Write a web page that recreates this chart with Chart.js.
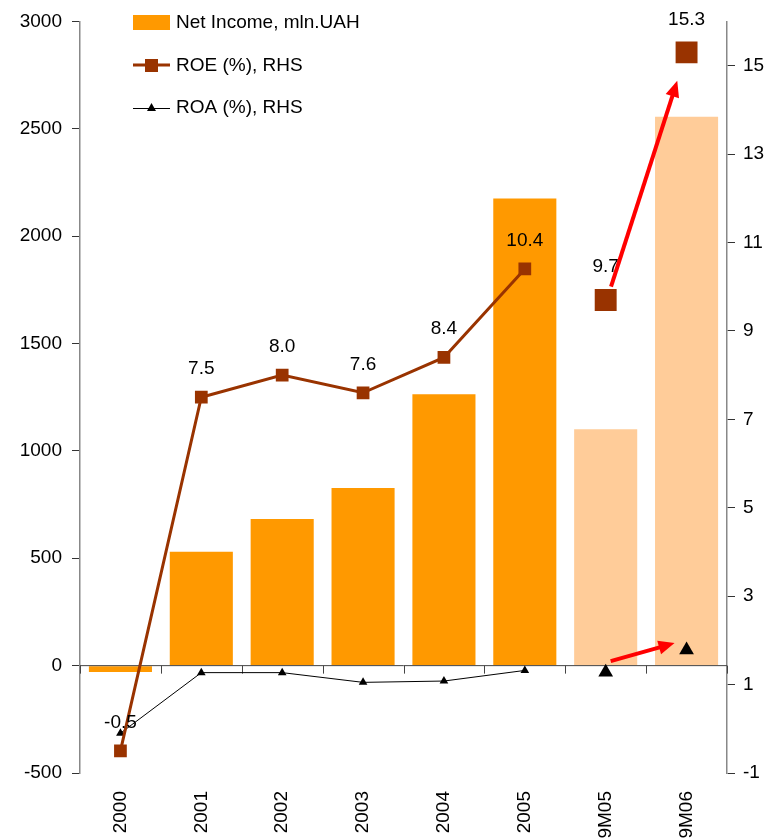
<!DOCTYPE html>
<html>
<head>
<meta charset="utf-8">
<script src="https://cdn.jsdelivr.net/npm/chart.js@4/dist/chart.umd.min.js"></script>
<style>
  html, body { margin: 0; padding: 0; background: #fff; }
  #wrap { width: 767px; height: 838px; position: relative; }
</style>
</head>
<body>
<div id="wrap"><canvas id="chart"></canvas></div>
<script>
/* ---------- data ---------- */
const categories = ['2000', '2001', '2002', '2003', '2004', '2005', '9M05', '9M06'];
const netIncome  = [-30, 530, 683, 827, 1264, 2175, 1101, 2556];   // mln.UAH, left axis
const roe        = [-0.5, 7.5, 8.0, 7.6, 8.4, 10.4, 9.7, 15.3];     // %, right axis
const roa        = [-0.1, 1.27, 1.27, 1.05, 1.08, 1.32, 1.28, 1.78]; // %, right axis
const leftTickValues  = [-500, 0, 500, 1000, 1500, 2000, 2500, 3000];
const rightTickValues = [-1, 1, 3, 5, 7, 9, 11, 13, 15];
const rightMax = 16;

const FONT = '"Liberation Sans", Arial, sans-serif';
const FS = 19;
const ORANGE = '#FF9900', PEACH = '#FFCC99', BROWN = '#993300';
const isPartial = i => i >= 6;   // 9M figures drawn apart from the yearly series

/* ---------- helpers ---------- */
function drawArrow(ctx, x1, y1, x2, y2) {
  const ang = Math.atan2(y2 - y1, x2 - x1);
  const head = 16, wing = 7;
  ctx.save();
  ctx.strokeStyle = '#FF0000';
  ctx.fillStyle = '#FF0000';
  ctx.lineWidth = 4;
  ctx.beginPath();
  ctx.moveTo(x1, y1);
  ctx.lineTo(x2 - Math.cos(ang) * head * 0.8, y2 - Math.sin(ang) * head * 0.8);
  ctx.stroke();
  ctx.beginPath();
  ctx.moveTo(x2, y2);
  ctx.lineTo(x2 - Math.cos(ang) * head + Math.sin(ang) * wing, y2 - Math.sin(ang) * head - Math.cos(ang) * wing);
  ctx.lineTo(x2 - Math.cos(ang) * head - Math.sin(ang) * wing, y2 - Math.sin(ang) * head + Math.cos(ang) * wing);
  ctx.closePath();
  ctx.fill();
  ctx.restore();
}

function towards(p, q, d) {
  const dx = q.x - p.x, dy = q.y - p.y, len = Math.hypot(dx, dy);
  return { x: p.x + dx / len * d, y: p.y + dy / len * d };
}

const asTicks = vals => vals.map(v => ({ value: v }));

/* ---------- plugins ---------- */
const zeroLine = {
  id: 'zeroLine',
  afterDatasetDraw(chart, args) {
    if (args.index !== 0) return;
    const { ctx, chartArea: a, scales } = chart;
    const y = scales.y.getPixelForValue(0);
    const step = scales.x.getPixelForValue(1) - scales.x.getPixelForValue(0);
    ctx.save();
    ctx.strokeStyle = '#444';
    ctx.lineWidth = 1;
    ctx.beginPath();
    ctx.moveTo(a.left, y);
    ctx.lineTo(a.right, y);
    for (let i = 0; i <= categories.length; i++) {
      const x = Math.round(scales.x.getPixelForValue(0) - step / 2 + i * step) + 0.5;
      ctx.moveTo(x, y);
      ctx.lineTo(x, y + 8);
    }
    ctx.stroke();
    ctx.restore();
  }
};

const annotations = {
  id: 'annotations',
  afterDatasetsDraw(chart) {
    const { ctx } = chart;
    const roeMeta = chart.getDatasetMeta(1);
    const roaMeta = chart.getDatasetMeta(2);

    // ROE value labels
    ctx.save();
    ctx.font = FS + 'px ' + FONT;
    ctx.fillStyle = '#000';
    ctx.textAlign = 'center';
    ctx.textBaseline = 'middle';
    roeMeta.data.forEach((pt, i) => {
      const r = isPartial(i) ? 15.5 : 9;
      ctx.fillText(roe[i].toFixed(1), pt.x, pt.y - r * 0.7 - 22);
    });
    ctx.restore();

    // red arrows between 9M05 and 9M06
    const a0 = roeMeta.data[6], a1 = roeMeta.data[7];
    const s = towards(a0, a1, 14), e = towards(a1, a0, 30);
    drawArrow(ctx, s.x + 1, s.y, e.x, e.y);

    const b0 = roaMeta.data[6], b1 = roaMeta.data[7];
    drawArrow(ctx, b0.x + 5, b0.y - 11, b1.x - 12, b1.y - 7);
  }
};

const customLegend = {
  id: 'customLegend',
  afterDraw(chart) {
    const ctx = chart.ctx;
    ctx.save();
    ctx.font = FS + 'px ' + FONT;
    ctx.fillStyle = '#000';
    ctx.textBaseline = 'middle';

    ctx.fillStyle = ORANGE;
    ctx.fillRect(133, 15, 37, 15);
    ctx.fillStyle = '#000';
    ctx.fillText('Net Income, mln.UAH', 176, 23);

    ctx.strokeStyle = BROWN;
    ctx.lineWidth = 3;
    ctx.beginPath(); ctx.moveTo(133, 65); ctx.lineTo(170, 65); ctx.stroke();
    ctx.fillStyle = BROWN;
    ctx.fillRect(145, 59, 13, 13);
    ctx.fillStyle = '#000';
    ctx.fillText('ROE (%), RHS', 176, 66);

    ctx.strokeStyle = '#000';
    ctx.lineWidth = 1;
    ctx.beginPath(); ctx.moveTo(133, 108.5); ctx.lineTo(170, 108.5); ctx.stroke();
    ctx.beginPath();
    ctx.moveTo(151.5, 103); ctx.lineTo(156, 111); ctx.lineTo(147, 111); ctx.closePath();
    ctx.fill();
    ctx.fillText('ROA (%), RHS', 176, 108);
    ctx.restore();
  }
};

/* ---------- chart ---------- */
new Chart(document.getElementById('chart'), {
  data: {
    labels: categories,
    datasets: [
      {
        type: 'bar',
        label: 'Net Income, mln.UAH',
        data: netIncome,
        yAxisID: 'y',
        order: 3,
        backgroundColor: categories.map((c, i) => isPartial(i) ? PEACH : ORANGE),
        borderWidth: 0,
        barPercentage: 0.78,
        categoryPercentage: 1
      },
      {
        type: 'line',
        label: 'ROE (%), RHS',
        data: roe,
        yAxisID: 'y1',
        order: 1,
        borderColor: BROWN,
        backgroundColor: BROWN,
        borderWidth: 3,
        pointStyle: 'rect',
        pointRadius: roe.map((v, i) => isPartial(i) ? 15.5 : 9),
        pointBorderWidth: 0,
        segment: { borderColor: c => c.p0DataIndex >= 5 ? 'transparent' : BROWN },
        tension: 0
      },
      {
        type: 'line',
        label: 'ROA (%), RHS',
        data: roa,
        yAxisID: 'y1',
        order: 2,
        borderColor: '#000',
        backgroundColor: '#000',
        borderWidth: 1,
        pointStyle: 'triangle',
        pointRadius: roa.map((v, i) => isPartial(i) ? 8.5 : 5),
        pointBorderWidth: 0,
        segment: { borderColor: c => c.p0DataIndex >= 5 ? 'transparent' : '#000' },
        tension: 0
      }
    ]
  },
  options: {
    responsive: true,
    maintainAspectRatio: false,
    animation: false,
    events: [],
    layout: { padding: { top: 20, left: 0, right: 0, bottom: 0 } },
    plugins: { legend: { display: false }, tooltip: { enabled: false } },
    scales: {
      x: {
        grid: { display: false, drawTicks: false },
        border: { display: false },
        ticks: {
          color: '#000', font: { family: FONT, size: FS },
          minRotation: 90, maxRotation: 90, padding: 18, autoSkip: false
        },
        afterFit: s => { s.height = 65; }
      },
      y: {
        position: 'left',
        min: leftTickValues[0], max: leftTickValues[leftTickValues.length - 1],
        ticks: { color: '#000', font: { family: FONT, size: FS }, padding: 10, callback: v => String(v) },
        grid: { drawOnChartArea: false, tickLength: 8, color: '#333' },
        border: { color: '#888', width: 1.5 },
        afterBuildTicks: s => { s.ticks = asTicks(leftTickValues); },
        afterFit: s => { s.width = 80; }
      },
      y1: {
        position: 'right',
        min: rightTickValues[0], max: rightMax,
        ticks: { color: '#000', font: { family: FONT, size: FS }, padding: 8, callback: v => String(v) },
        grid: { drawOnChartArea: false, tickLength: 8, color: '#333' },
        border: { color: '#888', width: 1.5 },
        afterBuildTicks: s => { s.ticks = asTicks(rightTickValues); },
        afterFit: s => { s.width = 40; }
      }
    }
  },
  plugins: [zeroLine, annotations, customLegend]
});
</script>
</body>
</html>
